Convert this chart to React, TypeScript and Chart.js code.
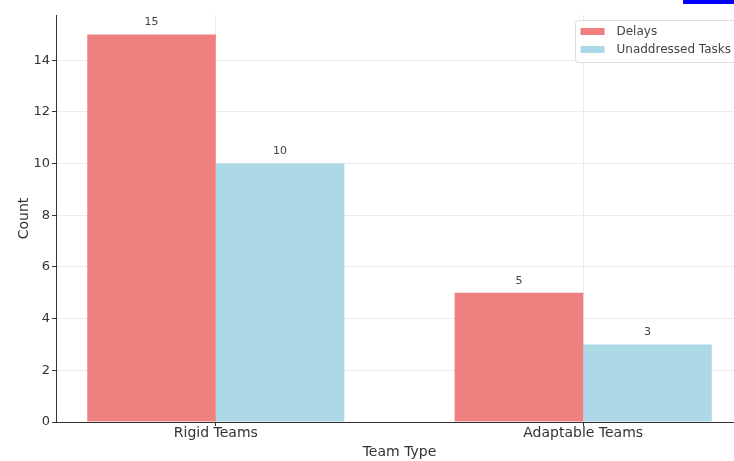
import React, { useEffect, useRef } from "react";
import { Chart, registerables } from "chart.js";

Chart.register(...registerables);

// Chart data
const categories = ["Rigid Teams", "Adaptable Teams"];
const seriesLabels = ["Delays", "Unaddressed Tasks"];
const delays = [15, 5];
const unaddressedTasks = [10, 3];
const yTickValues = [0, 2, 4, 6, 8, 10, 12, 14];

const FONT = "'DejaVu Sans', 'Noto Sans', sans-serif";
const RED = "#f08080";
const BLUE = "#add8e6";

// Value labels above each bar
const valueLabels = {
  id: "valueLabels",
  afterDatasetsDraw(chart: any) {
    const ctx = chart.ctx;
    ctx.save();
    ctx.font = `11px ${FONT}`;
    ctx.fillStyle = "#444";
    ctx.textAlign = "center";
    ctx.textBaseline = "middle";
    chart.data.datasets.forEach((ds: any, di: number) => {
      const meta = chart.getDatasetMeta(di);
      meta.data.forEach((el: any, i: number) => {
        const v = ds.data[i].y;
        ctx.fillText(String(v), el.x, el.y - 12);
      });
    });
    ctx.restore();
  },
};

// Framed legend in the upper-right corner of the axes
const boxLegend = {
  id: "boxLegend",
  afterDraw(chart: any) {
    const ctx = chart.ctx;
    const area = chart.chartArea;
    const fontSize = 12;
    const pad = 5.5;
    const rowH = 18;
    const boxW = 162;
    const boxH = 42;
    const bx = area.right - pad - boxW;
    const by = area.top + pad;
    ctx.save();
    ctx.beginPath();
    const r = 3;
    ctx.moveTo(bx + r, by);
    ctx.lineTo(bx + boxW - r, by);
    ctx.arcTo(bx + boxW, by, bx + boxW, by + r, r);
    ctx.lineTo(bx + boxW, by + boxH - r);
    ctx.arcTo(bx + boxW, by + boxH, bx + boxW - r, by + boxH, r);
    ctx.lineTo(bx + r, by + boxH);
    ctx.arcTo(bx, by + boxH, bx, by + boxH - r, r);
    ctx.lineTo(bx, by + r);
    ctx.arcTo(bx, by, bx + r, by, r);
    ctx.closePath();
    ctx.fillStyle = "rgba(255,255,255,0.8)";
    ctx.fill();
    ctx.strokeStyle = "#dcdcdc";
    ctx.lineWidth = 1;
    ctx.stroke();
    ctx.font = `${fontSize}px ${FONT}`;
    ctx.textBaseline = "middle";
    ctx.textAlign = "left";
    chart.data.datasets.forEach((ds: any, i: number) => {
      const cy = by + 11 + i * rowH;
      ctx.fillStyle = ds.backgroundColor;
      ctx.fillRect(bx + 5, cy - 3.5, 24, 7);
      ctx.fillStyle = "#444";
      ctx.fillText(ds.label, bx + 41, cy);
    });
    ctx.restore();
  },
};

export default function App() {
  const canvasRef = useRef<HTMLCanvasElement | null>(null);

  useEffect(() => {
    document.body.style.margin = "0";
    document.body.style.overflow = "hidden";
    const canvas = canvasRef.current;
    if (!canvas) return;

    const chart = new Chart(canvas, {
      type: "bar",
      data: {
        datasets: [
          {
            label: seriesLabels[0],
            data: delays.map((v, i) => ({ x: i, y: v })),
            backgroundColor: RED,
            borderWidth: 0,
          },
          {
            label: seriesLabels[1],
            data: unaddressedTasks.map((v, i) => ({ x: i, y: v })),
            backgroundColor: BLUE,
            borderWidth: 0,
          },
        ],
      },
      options: {
        responsive: false,
        animation: false,
        devicePixelRatio: 1,
        categoryPercentage: 0.7,
        barPercentage: 1.0,
        layout: { padding: { top: 15, right: 0, bottom: 0, left: 0 } },
        plugins: {
          legend: { display: false },
          tooltip: { enabled: false },
        },
        scales: {
          x: {
            type: "linear",
            min: -0.435,
            max: 1.435,
            offset: false,
            afterBuildTicks: (scale: any) => {
              scale.ticks = categories.map((_, i) => ({ value: i }));
            },
            afterFit: (scale: any) => {
              scale.height = 39;
            },
            ticks: {
              callback: (v: any) => categories[Number(v)] ?? "",
              color: "#333",
              font: { family: FONT, size: 14 },
              padding: -1,
              maxRotation: 0,
              autoSkip: false,
            },
            grid: {
              offset: false,
              color: "#ebebeb",
              tickColor: "#333",
              tickLength: 4,
              lineWidth: 1,
            },
            border: { color: "#333", width: 1 },
            title: {
              display: true,
              text: "Team Type",
              color: "#333",
              font: { family: FONT, size: 14 },
              padding: { top: 0, bottom: 0.6 },
            },
          },
          y: {
            type: "linear",
            min: 0,
            max: 15.75,
            afterBuildTicks: (scale: any) => {
              scale.ticks = yTickValues.map((v) => ({ value: v }));
            },
            afterFit: (scale: any) => {
              scale.width = 56;
            },
            ticks: {
              color: "#333",
              font: { family: FONT, size: 13 },
              padding: 2,
            },
            grid: {
              color: "#ebebeb",
              tickColor: "#333",
              tickLength: 4,
              lineWidth: 1,
            },
            border: { color: "#333", width: 1 },
            title: {
              display: true,
              text: "Count",
              color: "#333",
              font: { family: FONT, size: 14 },
              padding: { top: 15.6, bottom: 0 },
            },
          },
        },
      },
      plugins: [valueLabels, boxLegend],
    } as any);

    return () => chart.destroy();
  }, []);

  return (
    <div
      style={{
        position: "absolute",
        left: 0,
        top: 0,
        width: 734,
        height: 461,
        overflow: "hidden",
        background: "#fff",
      }}
    >
      <canvas ref={canvasRef} width={743} height={461} style={{ display: "block" }} />
      <a
        href="#"
        style={{
          position: "absolute",
          left: 683,
          top: 0,
          width: 51,
          height: 4,
          background: "#0000ff",
          display: "block",
        }}
      />
    </div>
  );
}
